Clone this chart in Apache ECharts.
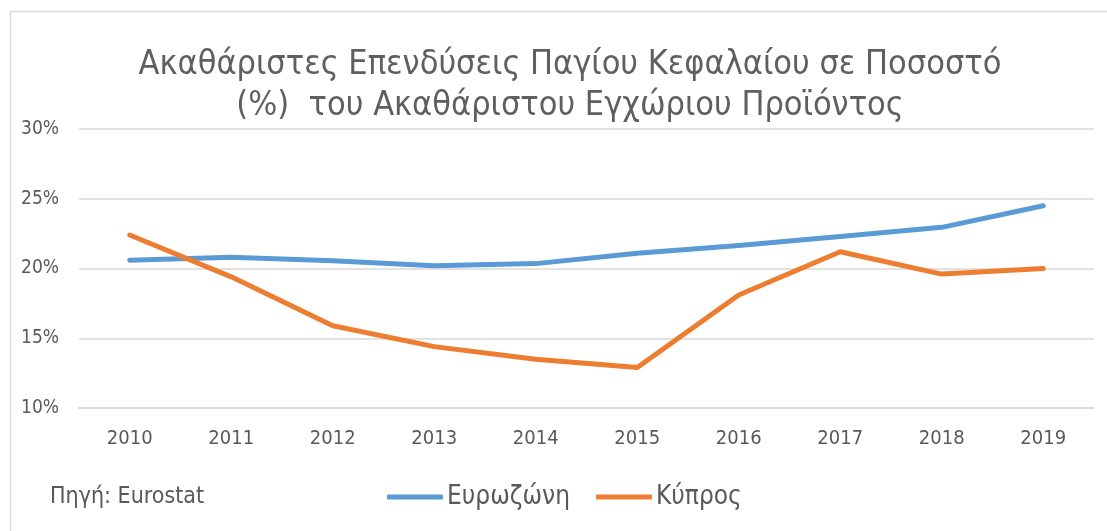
<!DOCTYPE html>
<html>
<head>
<meta charset="utf-8">
<script src="https://cdn.jsdelivr.net/npm/echarts@6/dist/echarts.min.js"></script>
<style>
  html, body { margin: 0; padding: 0; background: #fff; }
  #chart { width: 1107px; height: 531px; }
</style>
</head>
<body>
<div id="chart"></div>
<script>
// values (% of GDP)
var years = ["2010", "2011", "2012", "2013", "2014", "2015", "2016", "2017", "2018", "2019"];
var eurozone = [20.6, 20.8, 20.55, 20.2, 20.35, 21.1, 21.65, 22.3, 22.95, 24.5];
var cyprus = [22.4, 19.4, 15.9, 14.4, 13.5, 12.9, 18.1, 21.2, 19.6, 20.0];
var seriesNames = ["Ευρωζώνη", "Κύπρος"];

var font = "'DejaVu Sans Condensed', 'DejaVu Sans', sans-serif";

var myChart = echarts.init(document.getElementById("chart"));
var option = {
  animation: false,
  textStyle: { fontFamily: font },
  title: {
    text: "Ακαθάριστες Επενδύσεις Παγίου Κεφαλαίου σε Ποσοστό\n(%)  του Ακαθάριστου Εγχώριου Προϊόντος",
    left: 565,
    textAlign: "center",
    top: 40,
    textStyle: { fontFamily: font, fontSize: 34, fontWeight: "normal", color: "#5f5f5f", lineHeight: 41 }
  },
  legend: {
    top: 479,
    left: 382,
    itemWidth: 56,
    itemHeight: 5,
    itemGap: 26,
    icon: "roundRect",
    textStyle: { fontFamily: font, fontSize: 26, color: "#595959", padding: [0, 0, 0, -1] },
    data: seriesNames
  },
  grid: { left: 79, right: 13, top: 129, bottom: 123 },
  xAxis: {
    type: "category",
    data: years,
    axisLine: { show: true, lineStyle: { color: "#d9d9d9", width: 1.5 } },
    axisTick: { show: false },
    axisLabel: { fontSize: 20, color: "#595959", margin: 21, fontFamily: font }
  },
  yAxis: {
    type: "value",
    min: 10,
    max: 30,
    interval: 5,
    axisLine: { show: false },
    axisTick: { show: false },
    splitLine: { lineStyle: { color: "#d9d9d9", width: 1.5 } },
    axisLabel: { fontSize: 19, color: "#595959", margin: 20, formatter: "{value}%", fontFamily: font }
  },
  graphic: [
    { type: "rect", shape: { x: 10.5, y: 11.5, width: 1120, height: 560 }, style: { fill: null, stroke: "#d9d9d9", lineWidth: 1.5 }, silent: true },
    { type: "text", left: 50, top: 486, style: { text: "Πηγή: Eurostat", font: "23px " + font, fill: "#595959" } }
  ],
  series: [
    {
      name: seriesNames[0], type: "line", data: eurozone, showSymbol: false, smooth: false,
      lineStyle: { color: "#5b9bd5", width: 5, cap: "round", join: "round" },
      itemStyle: { color: "#5b9bd5" }
    },
    {
      name: seriesNames[1], type: "line", data: cyprus, showSymbol: false, smooth: false,
      lineStyle: { color: "#ed7d31", width: 5, cap: "round", join: "round" },
      itemStyle: { color: "#ed7d31" }
    }
  ]
};
myChart.setOption(option);
</script>
</body>
</html>
